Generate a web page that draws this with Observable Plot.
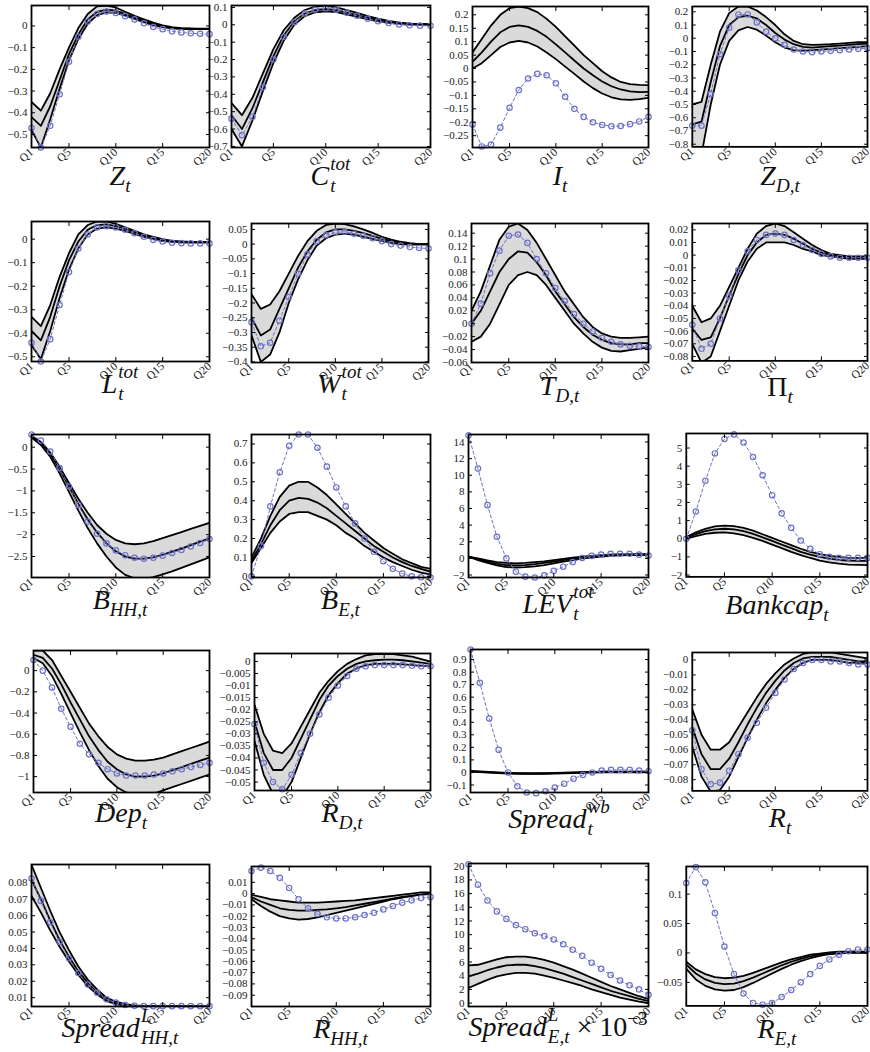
<!DOCTYPE html>
<html>
<head>
<meta charset="utf-8">
<script src="https://cdn.jsdelivr.net/npm/d3@7"></script>
<script src="https://cdn.jsdelivr.net/npm/@observablehq/plot@0.6"></script>
<style>
html,body{margin:0;padding:0;background:#fff;}
#root{position:relative;width:870px;height:1052px;overflow:hidden;background:#fff;}
.panel{position:absolute;}
.panel svg{overflow:visible;}
.ttl{position:absolute;font-family:"Liberation Serif","DejaVu Serif",serif;font-style:italic;font-size:28px;line-height:28px;color:#111;white-space:nowrap;transform:translateX(-50%);}
.sb{font-size:0.68em;vertical-align:-0.38em;line-height:0;}
.stk{display:inline-grid;font-size:0.68em;line-height:1;margin-left:1px;}
.stk>span{grid-area:1/1;position:relative;justify-self:start;}
.stk .u{top:-0.8em;}
.stk .d{top:0.38em;}
.rm{font-style:normal;}
.sp{font-size:0.68em;vertical-align:0.6em;line-height:0;}
</style>
</head>
<body>
<div id="root"></div>
<script>
// ---------------- data ----------------
const quarters = [1,2,3,4,5,6,7,8,9,10,11,12,13,14,15,16,17,18,19,20];
const quarterTicks = [1,5,10,15,20];

const sb = s => `<span class="sb">${s}</span>`;
const stk = (u, d) => `<span class="stk"><span class="u">${u}</span><span class="d">${d}</span></span>`;
const panelTitles = [
  `Z${sb("t")}`, `C${stk("tot","t")}`, `I${sb("t")}`, `Z${sb("D,t")}`,
  `L${stk("tot","t")}`, `W${stk("tot","t")}`, `T${sb("D,t")}`, `<span class="rm">Π</span>${sb("t")}`,
  `B${sb("HH,t")}`, `B${sb("E,t")}`, `LEV${stk("tot","t")}`, `Bankcap${sb("t")}`,
  `Dep${sb("t")}`, `R${sb("D,t")}`, `Spread${stk("wb","t")}`, `R${sb("t")}`,
  `Spread${stk("L","HH,t")}`, `R${sb("HH,t")}`, `Spread${stk("L","E,t")} <span class="rm">× 10<span class="sp">−3</span></span>`, `R${sb("E,t")}`
];

const yDomains = [
  [-0.56, 0.094], [-0.706, 0.111], [-0.294, 0.231], [-0.82, 0.24],
  [-0.52, 0.075], [-0.402, 0.07], [-0.06, 0.155], [-0.0835, 0.025],
  [-2.98, 0.29], [-0.006, 0.75], [-2.3, 14.9], [-2.1, 5.8],
  [-1.15, 0.19], [-0.0535, 0.0033], [-0.16, 0.98], [-0.0875, 0.005],
  [0.0046, 0.0912], [-0.1, 0.024], [-0.5, 20.4], [-0.09, 0.147]
];

const yTicks = [
  [-0.5,-0.4,-0.3,-0.2,-0.1,0],
  [-0.7,-0.6,-0.5,-0.4,-0.3,-0.2,-0.1,0,0.1],
  [-0.25,-0.2,-0.15,-0.1,-0.05,0,0.05,0.1,0.15,0.2],
  [-0.8,-0.7,-0.6,-0.5,-0.4,-0.3,-0.2,-0.1,0,0.1,0.2],
  [-0.5,-0.4,-0.3,-0.2,-0.1,0],
  [-0.4,-0.35,-0.3,-0.25,-0.2,-0.15,-0.1,-0.05,0,0.05],
  [-0.06,-0.04,-0.02,0,0.02,0.04,0.06,0.08,0.1,0.12,0.14],
  [-0.08,-0.07,-0.06,-0.05,-0.04,-0.03,-0.02,-0.01,0,0.01,0.02],
  [-2.5,-2,-1.5,-1,-0.5,0],
  [0,0.1,0.2,0.3,0.4,0.5,0.6,0.7],
  [-2,0,2,4,6,8,10,12,14],
  [-2,-1,0,1,2,3,4,5],
  [-1,-0.8,-0.6,-0.4,-0.2,0],
  [-0.05,-0.045,-0.04,-0.035,-0.03,-0.025,-0.02,-0.015,-0.01,-0.005,0],
  [-0.1,0,0.1,0.2,0.3,0.4,0.5,0.6,0.7,0.8,0.9],
  [-0.08,-0.07,-0.06,-0.05,-0.04,-0.03,-0.02,-0.01,0],
  [0.01,0.02,0.03,0.04,0.05,0.06,0.07,0.08],
  [-0.09,-0.08,-0.07,-0.06,-0.05,-0.04,-0.03,-0.02,-0.01,0,0.01],
  [0,2,4,6,8,10,12,14,16,18,20],
  [-0.05,0,0.05,0.1]
];

// upper edge of the shaded band
const bandUpper = [
  [-0.35,-0.39,-0.31,-0.2,-0.1,-0.01,0.055,0.09,0.094,0.085,0.065,0.046,0.03,0.015,0.002,-0.006,-0.01,-0.012,-0.013,-0.013],
  [-0.45,-0.52,-0.42,-0.28,-0.14,-0.03,0.04,0.085,0.105,0.11,0.1,0.085,0.068,0.05,0.035,0.022,0.012,0.006,0.004,0.003],
  [0.06,0.11,0.16,0.2,0.225,0.231,0.225,0.21,0.185,0.155,0.12,0.085,0.05,0.02,-0.01,-0.033,-0.05,-0.058,-0.061,-0.062],
  [-0.5,-0.48,-0.2,0.05,0.19,0.24,0.24,0.21,0.16,0.1,0.03,-0.02,-0.045,-0.05,-0.048,-0.045,-0.04,-0.035,-0.03,-0.03],
  [-0.33,-0.37,-0.28,-0.16,-0.06,0.02,0.06,0.075,0.075,0.065,0.05,0.035,0.02,0.01,0.0,-0.007,-0.01,-0.012,-0.012,-0.012],
  [-0.17,-0.22,-0.205,-0.16,-0.1,-0.04,0.01,0.045,0.065,0.07,0.068,0.06,0.05,0.038,0.025,0.015,0.008,0.003,0.0,0.0],
  [0.02,0.05,0.09,0.13,0.15,0.155,0.145,0.125,0.1,0.075,0.05,0.03,0.01,-0.005,-0.015,-0.02,-0.022,-0.022,-0.021,-0.02],
  [-0.04,-0.053,-0.05,-0.04,-0.025,-0.01,0.005,0.017,0.023,0.025,0.023,0.018,0.013,0.008,0.004,0.001,0.0,-0.001,-0.001,-0.001],
  [0.25,0.12,-0.12,-0.45,-0.82,-1.18,-1.5,-1.78,-1.98,-2.12,-2.2,-2.22,-2.2,-2.15,-2.08,-2.01,-1.94,-1.87,-1.8,-1.73],
  [0.1,0.2,0.32,0.42,0.48,0.5,0.5,0.47,0.43,0.38,0.33,0.28,0.23,0.19,0.15,0.12,0.09,0.07,0.05,0.04],
  [0.2,0.0,-0.25,-0.45,-0.55,-0.6,-0.55,-0.45,-0.35,-0.2,-0.05,0.1,0.2,0.3,0.4,0.45,0.5,0.5,0.5,0.5],
  [0.1,0.35,0.55,0.68,0.72,0.7,0.6,0.45,0.25,0.05,-0.15,-0.35,-0.55,-0.72,-0.85,-0.95,-1.0,-1.05,-1.05,-1.05],
  [0.19,0.19,0.1,-0.05,-0.2,-0.35,-0.5,-0.62,-0.72,-0.79,-0.83,-0.85,-0.85,-0.84,-0.82,-0.79,-0.76,-0.73,-0.7,-0.67],
  [-0.018,-0.03,-0.037,-0.038,-0.034,-0.027,-0.02,-0.013,-0.008,-0.004,-0.001,0.001,0.0025,0.003,0.003,0.003,0.0025,0.002,0.001,0.0],
  [0.012,0.008,0.004,0.0,-0.003,-0.005,-0.006,-0.006,-0.005,-0.003,-0.001,0.001,0.003,0.005,0.006,0.007,0.007,0.007,0.007,0.007],
  [-0.033,-0.05,-0.06,-0.06,-0.055,-0.045,-0.035,-0.025,-0.016,-0.009,-0.003,0.001,0.004,0.005,0.005,0.005,0.004,0.003,0.002,0.001],
  [0.091,0.077,0.063,0.05,0.039,0.029,0.021,0.015,0.01,0.0075,0.006,0.0052,0.0049,0.0048,0.0048,0.0048,0.0048,0.0048,0.0048,0.0048],
  [-0.001,-0.003,-0.005,-0.006,-0.007,-0.008,-0.008,-0.008,-0.0075,-0.007,-0.0065,-0.006,-0.005,-0.004,-0.003,-0.002,-0.001,0.0,0.001,0.001],
  [5.5,5.6,6.0,6.4,6.7,6.8,6.8,6.6,6.3,5.9,5.4,4.9,4.3,3.7,3.1,2.5,2.0,1.5,1.0,0.6],
  [-0.015,-0.028,-0.036,-0.041,-0.043,-0.042,-0.039,-0.034,-0.028,-0.022,-0.016,-0.011,-0.007,-0.003,-0.001,0.001,0.002,0.002,0.002,0.002]
];

// median line
const bandMedian = [
  [-0.42,-0.46,-0.37,-0.25,-0.13,-0.04,0.03,0.065,0.075,0.07,0.055,0.038,0.022,0.008,-0.003,-0.009,-0.012,-0.013,-0.014,-0.014],
  [-0.52,-0.6,-0.48,-0.33,-0.18,-0.06,0.02,0.065,0.085,0.09,0.085,0.07,0.055,0.04,0.027,0.016,0.009,0.005,0.003,0.003],
  [0.025,0.06,0.1,0.135,0.155,0.161,0.155,0.14,0.118,0.09,0.06,0.03,0.0,-0.025,-0.048,-0.066,-0.078,-0.085,-0.088,-0.087],
  [-0.65,-0.63,-0.33,-0.06,0.1,0.16,0.17,0.15,0.1,0.04,-0.01,-0.045,-0.065,-0.07,-0.065,-0.06,-0.055,-0.05,-0.045,-0.04],
  [-0.39,-0.43,-0.33,-0.2,-0.09,-0.01,0.04,0.06,0.063,0.055,0.042,0.03,0.015,0.005,-0.005,-0.01,-0.012,-0.013,-0.013,-0.013],
  [-0.25,-0.31,-0.29,-0.22,-0.15,-0.08,-0.025,0.015,0.04,0.05,0.05,0.045,0.037,0.028,0.018,0.01,0.005,0.001,0.0,0.0],
  [0.0,0.02,0.05,0.08,0.1,0.112,0.11,0.095,0.075,0.05,0.03,0.01,-0.005,-0.017,-0.025,-0.03,-0.032,-0.032,-0.03,-0.03],
  [-0.058,-0.067,-0.065,-0.05,-0.032,-0.015,0.0,0.01,0.016,0.017,0.016,0.013,0.009,0.005,0.002,0.0,-0.001,-0.002,-0.002,-0.002],
  [0.25,0.1,-0.15,-0.5,-0.9,-1.3,-1.65,-1.95,-2.2,-2.38,-2.5,-2.55,-2.55,-2.52,-2.46,-2.39,-2.32,-2.24,-2.16,-2.09],
  [0.08,0.17,0.27,0.35,0.4,0.415,0.41,0.39,0.36,0.32,0.28,0.24,0.2,0.16,0.13,0.1,0.075,0.055,0.04,0.025],
  [0.2,-0.1,-0.4,-0.65,-0.8,-0.85,-0.8,-0.7,-0.55,-0.4,-0.2,-0.05,0.1,0.2,0.3,0.38,0.42,0.45,0.45,0.45],
  [0.05,0.25,0.42,0.52,0.55,0.52,0.42,0.27,0.08,-0.12,-0.32,-0.52,-0.72,-0.88,-1.0,-1.1,-1.17,-1.2,-1.22,-1.22],
  [0.15,0.12,0.02,-0.13,-0.3,-0.46,-0.62,-0.75,-0.86,-0.93,-0.98,-1.0,-1.0,-0.99,-0.97,-0.94,-0.91,-0.88,-0.85,-0.82],
  [-0.025,-0.038,-0.045,-0.045,-0.04,-0.032,-0.024,-0.016,-0.01,-0.006,-0.003,-0.001,0.0,0.0005,0.0008,0.0008,0.0005,0.0,-0.0005,-0.001],
  [0.009,0.005,0.001,-0.003,-0.006,-0.008,-0.009,-0.009,-0.008,-0.006,-0.004,-0.002,0.0,0.002,0.003,0.004,0.004,0.004,0.004,0.004],
  [-0.045,-0.063,-0.073,-0.073,-0.066,-0.055,-0.043,-0.032,-0.022,-0.014,-0.007,-0.002,0.001,0.002,0.002,0.002,0.001,0.0,-0.001,-0.001],
  [0.082,0.07,0.057,0.045,0.035,0.026,0.019,0.013,0.009,0.007,0.0056,0.005,0.0048,0.0047,0.0047,0.0047,0.0047,0.0047,0.0047,0.0047],
  [-0.003,-0.007,-0.01,-0.013,-0.0145,-0.015,-0.015,-0.0145,-0.014,-0.013,-0.012,-0.0105,-0.009,-0.0075,-0.006,-0.0045,-0.003,-0.002,-0.001,0.0],
  [3.9,4.3,4.8,5.2,5.5,5.6,5.6,5.4,5.1,4.7,4.3,3.8,3.3,2.8,2.3,1.8,1.4,1.0,0.6,0.3],
  [-0.02,-0.035,-0.045,-0.051,-0.053,-0.052,-0.048,-0.042,-0.035,-0.028,-0.021,-0.015,-0.01,-0.006,-0.003,-0.001,0.0,0.001,0.001,0.001]
];

// lower edge of the shaded band
const bandLower = [
  [-0.48,-0.56,-0.43,-0.29,-0.16,-0.06,0.01,0.05,0.062,0.06,0.047,0.032,0.017,0.004,-0.006,-0.011,-0.014,-0.015,-0.015,-0.015],
  [-0.6,-0.7,-0.55,-0.38,-0.22,-0.09,0.0,0.05,0.072,0.078,0.073,0.06,0.046,0.032,0.02,0.011,0.005,0.001,0.0,0.0],
  [0.0,0.02,0.05,0.08,0.097,0.103,0.097,0.082,0.06,0.035,0.007,-0.02,-0.048,-0.073,-0.093,-0.107,-0.115,-0.117,-0.114,-0.109],
  [-0.82,-0.88,-0.5,-0.2,-0.02,0.06,0.085,0.065,0.02,-0.03,-0.07,-0.09,-0.095,-0.09,-0.085,-0.08,-0.075,-0.07,-0.065,-0.06],
  [-0.45,-0.51,-0.39,-0.25,-0.13,-0.04,0.02,0.045,0.05,0.045,0.035,0.022,0.01,0.0,-0.008,-0.012,-0.014,-0.015,-0.015,-0.015],
  [-0.31,-0.4,-0.375,-0.3,-0.2,-0.12,-0.055,-0.005,0.02,0.032,0.035,0.032,0.025,0.018,0.01,0.004,0.0,-0.002,-0.002,-0.002],
  [-0.028,-0.02,0.0,0.03,0.06,0.075,0.08,0.075,0.06,0.04,0.02,0.0,-0.015,-0.028,-0.037,-0.042,-0.043,-0.041,-0.039,-0.037],
  [-0.07,-0.085,-0.08,-0.06,-0.04,-0.02,-0.005,0.005,0.01,0.01,0.01,0.008,0.005,0.003,0.0,-0.001,-0.002,-0.003,-0.003,-0.003],
  [0.22,0.05,-0.22,-0.6,-1.02,-1.45,-1.85,-2.2,-2.5,-2.75,-2.92,-3.0,-3.02,-2.97,-2.91,-2.84,-2.76,-2.68,-2.6,-2.52],
  [0.07,0.15,0.23,0.29,0.33,0.34,0.34,0.32,0.3,0.27,0.23,0.2,0.16,0.13,0.1,0.075,0.055,0.035,0.02,0.01],
  [0.2,-0.2,-0.55,-0.85,-1.05,-1.1,-1.05,-0.95,-0.8,-0.6,-0.4,-0.2,0.0,0.1,0.2,0.3,0.35,0.4,0.4,0.4],
  [0.0,0.15,0.27,0.33,0.35,0.3,0.2,0.05,-0.12,-0.32,-0.52,-0.72,-0.9,-1.06,-1.2,-1.3,-1.37,-1.42,-1.44,-1.45],
  [0.12,0.07,-0.05,-0.22,-0.4,-0.58,-0.75,-0.9,-1.02,-1.1,-1.15,-1.17,-1.17,-1.16,-1.13,-1.1,-1.07,-1.04,-1.01,-0.98],
  [-0.033,-0.047,-0.055,-0.056,-0.05,-0.04,-0.03,-0.021,-0.014,-0.009,-0.005,-0.003,-0.0015,-0.001,-0.001,-0.001,-0.0012,-0.0015,-0.0018,-0.002],
  [0.006,0.002,-0.002,-0.006,-0.009,-0.011,-0.012,-0.012,-0.011,-0.009,-0.007,-0.005,-0.003,-0.001,0.0,0.001,0.001,0.001,0.001,0.001],
  [-0.058,-0.078,-0.088,-0.087,-0.078,-0.065,-0.052,-0.04,-0.029,-0.02,-0.012,-0.006,-0.002,0.0,0.0,0.0,-0.001,-0.002,-0.002,-0.002],
  [0.072,0.062,0.051,0.041,0.032,0.024,0.017,0.012,0.008,0.006,0.0052,0.0048,0.0047,0.0046,0.0046,0.0046,0.0046,0.0046,0.0046,0.0046],
  [-0.005,-0.011,-0.016,-0.02,-0.022,-0.023,-0.0225,-0.021,-0.019,-0.017,-0.015,-0.013,-0.011,-0.009,-0.007,-0.005,-0.0035,-0.002,-0.001,-0.0005],
  [2.2,2.8,3.4,3.9,4.2,4.4,4.4,4.3,4.0,3.7,3.3,2.9,2.5,2.0,1.6,1.2,0.8,0.5,0.2,0.0],
  [-0.027,-0.045,-0.056,-0.062,-0.064,-0.063,-0.058,-0.051,-0.043,-0.035,-0.027,-0.02,-0.014,-0.009,-0.005,-0.002,-0.001,0.0,0.0,0.0]
];

// dashed blue line with circles
const modelLine = [
  [-0.47,-0.56,-0.46,-0.315,-0.165,-0.05,0.02,0.055,0.066,0.06,0.045,0.03,0.012,-0.005,-0.015,-0.025,-0.03,-0.034,-0.036,-0.038],
  [-0.54,-0.635,-0.53,-0.36,-0.2,-0.07,0.015,0.065,0.088,0.095,0.087,0.07,0.052,0.035,0.02,0.01,0.002,-0.003,-0.005,-0.006],
  [-0.208,-0.29,-0.283,-0.22,-0.146,-0.08,-0.037,-0.02,-0.025,-0.055,-0.105,-0.15,-0.18,-0.2,-0.21,-0.215,-0.214,-0.207,-0.197,-0.18],
  [-0.66,-0.66,-0.42,-0.12,0.08,0.18,0.18,0.12,0.05,0.0,-0.05,-0.085,-0.1,-0.105,-0.1,-0.095,-0.09,-0.085,-0.08,-0.075],
  [-0.44,-0.52,-0.425,-0.28,-0.14,-0.04,0.02,0.05,0.055,0.05,0.04,0.025,0.01,-0.003,-0.01,-0.015,-0.017,-0.018,-0.018,-0.018],
  [-0.265,-0.347,-0.335,-0.26,-0.18,-0.1,-0.035,0.01,0.03,0.04,0.042,0.035,0.028,0.02,0.01,0.0,-0.005,-0.01,-0.013,-0.015],
  [0.0,0.031,0.078,0.113,0.136,0.138,0.125,0.1,0.078,0.055,0.035,0.015,0.0,-0.012,-0.022,-0.028,-0.032,-0.034,-0.035,-0.036],
  [-0.055,-0.074,-0.07,-0.05,-0.032,-0.012,0.003,0.012,0.016,0.017,0.016,0.012,0.008,0.004,0.001,-0.001,-0.002,-0.002,-0.002,-0.002],
  [0.29,0.15,-0.1,-0.48,-0.9,-1.32,-1.7,-1.98,-2.2,-2.36,-2.47,-2.53,-2.55,-2.53,-2.48,-2.42,-2.35,-2.27,-2.19,-2.1],
  [0.0,0.16,0.37,0.55,0.69,0.75,0.75,0.68,0.58,0.47,0.37,0.28,0.2,0.13,0.08,0.04,0.015,0.0,-0.005,-0.006],
  [14.8,10.8,6.4,2.6,0.0,-1.6,-2.2,-2.3,-2.05,-1.5,-1.0,-0.45,0.05,0.3,0.45,0.55,0.55,0.55,0.45,0.35],
  [0.0,1.5,3.2,4.7,5.5,5.75,5.3,4.5,3.5,2.4,1.4,0.6,-0.1,-0.55,-0.85,-1.0,-1.05,-1.05,-1.05,-1.05],
  [0.1,0.0,-0.16,-0.36,-0.53,-0.69,-0.79,-0.87,-0.93,-0.97,-0.99,-0.99,-0.99,-0.98,-0.97,-0.95,-0.93,-0.91,-0.89,-0.87],
  [-0.026,-0.042,-0.05,-0.053,-0.047,-0.038,-0.03,-0.022,-0.015,-0.01,-0.006,-0.003,-0.002,-0.0015,-0.0015,-0.0015,-0.0015,-0.0018,-0.002,-0.002],
  [0.98,0.714,0.43,0.18,0.0,-0.11,-0.16,-0.165,-0.15,-0.12,-0.09,-0.05,-0.02,0.0,0.015,0.02,0.02,0.02,0.015,0.01],
  [-0.047,-0.073,-0.083,-0.082,-0.074,-0.063,-0.052,-0.042,-0.032,-0.022,-0.013,-0.006,-0.002,0.0,0.0,-0.001,-0.001,-0.002,-0.003,-0.003],
  [0.0826,0.069,0.056,0.044,0.034,0.025,0.018,0.013,0.009,0.007,0.0055,0.005,0.0048,0.0048,0.0048,0.0048,0.0048,0.0048,0.0048,0.0048],
  [0.02,0.023,0.02,0.014,0.005,-0.005,-0.013,-0.018,-0.021,-0.022,-0.022,-0.021,-0.019,-0.017,-0.014,-0.011,-0.008,-0.006,-0.004,-0.003],
  [20.3,17.3,15.0,13.4,12.3,11.4,10.8,10.2,9.8,9.3,8.6,7.8,6.9,5.9,5.0,4.1,3.3,2.6,2.0,1.2],
  [0.119,0.146,0.12,0.068,0.011,-0.036,-0.069,-0.085,-0.088,-0.085,-0.075,-0.063,-0.05,-0.036,-0.022,-0.011,-0.003,0.003,0.006,0.006]
];

// ---------------- layout (pixel boxes of each panel frame, title centres) ----------------
const frames = [
  [31,5,209,147],[231,5,430,147],[472,6,648,147],[692,6,868,147],
  [31,221,209,361],[251,223,428,362],[471,223,648,362],[692,223,868,361],
  [31,434,209,577],[251,434,430,577],[468,434,648,577],[686,433,868,577],
  [33,650,209,792],[254,653,430,790],[470,649,648,792],[692,652,868,791],
  [31,864,209,1006],[251,866,430,1006],[468,863,648,1006],[686,866,868,1006]
];
const titleY = [
  177,177,177,177,
  385,385,387,388,
  601,601,605,606,
  814,814,820,819,
  1029,1030,1028,1030
];

const BLUE = "#6d72c6";
const fmtY = d => (d < 0 ? "\u2212" : "") + String(Math.abs(d));
const fmtX = d => "Q" + d;

const root = document.getElementById("root");

frames.forEach(([L,T,R,B], i) => {
  const mL = 48, mR = 3, mT = 3, mB = 34;
  const rows = quarters.map((q, j) => ({
    q, up: bandUpper[i][j], med: bandMedian[i][j], lo: bandLower[i][j], blue: modelLine[i][j]
  }));
  const plot = Plot.plot({
    width: R - L + mL + mR,
    height: B - T + mT + mB,
    marginLeft: mL, marginRight: mR, marginTop: mT, marginBottom: mB,
    style: {fontFamily: "'Liberation Serif', 'DejaVu Serif', serif", fontSize: "11px", color: "#1a1a1a", background: "transparent", overflow: "visible"},
    x: {domain: [1, 20], label: null},
    y: {domain: yDomains[i], label: null},
    marks: [
      Plot.areaY(rows, {x: "q", y1: "lo", y2: "up", fill: "#dadada", clip: true}),
      Plot.lineY(rows, {x: "q", y: "up", stroke: "#000", strokeWidth: 1.8, clip: true}),
      Plot.lineY(rows, {x: "q", y: "med", stroke: "#000", strokeWidth: 1.8, clip: true}),
      Plot.lineY(rows, {x: "q", y: "lo", stroke: "#000", strokeWidth: 1.8, clip: true}),
      Plot.lineY(rows, {x: "q", y: "blue", stroke: BLUE, strokeWidth: 1, strokeDasharray: "3,2.5", clip: true}),
      Plot.dot(rows, {x: "q", y: "blue", r: 2.7, stroke: BLUE, strokeWidth: 1.2, fill: "none"}),
      Plot.frame({stroke: "#000", strokeWidth: 1.8}),
      Plot.axisY(yTicks[i], {anchor: "left", tickFormat: fmtY, tickSize: 0, tickPadding: 4, label: null, fill: "#1a1a1a"}),
      Plot.axisY(yTicks[i], {anchor: "left", tickSize: 4, dx: 4, fill: "none", label: null, stroke: "#000"}),
      Plot.axisY(yTicks[i], {anchor: "right", tickSize: 4, dx: -4, fill: "none", label: null, stroke: "#000"}),
      Plot.axisX(quarterTicks, {anchor: "bottom", tickFormat: fmtX, tickSize: 0, tickPadding: 3, tickRotate: -42, fontSize: 11.5, label: null, fill: "#1a1a1a"}),
      Plot.axisX(quarterTicks, {anchor: "bottom", tickSize: 4, dy: -4, fill: "none", label: null, stroke: "#000"}),
      Plot.axisX(quarterTicks, {anchor: "top", tickSize: 4, dy: 4, fill: "none", label: null, stroke: "#000"})
    ]
  });
  const box = document.createElement("div");
  box.className = "panel";
  box.style.left = (L - mL) + "px";
  box.style.top = (T - mT) + "px";
  box.appendChild(plot);
  root.appendChild(box);

  const t = document.createElement("div");
  t.className = "ttl";
  t.innerHTML = panelTitles[i];
  t.style.left = ((L + R) / 2) + "px";
  t.style.top = (titleY[i] - 15) + "px";
  root.appendChild(t);
});
</script>
</body>
</html>
